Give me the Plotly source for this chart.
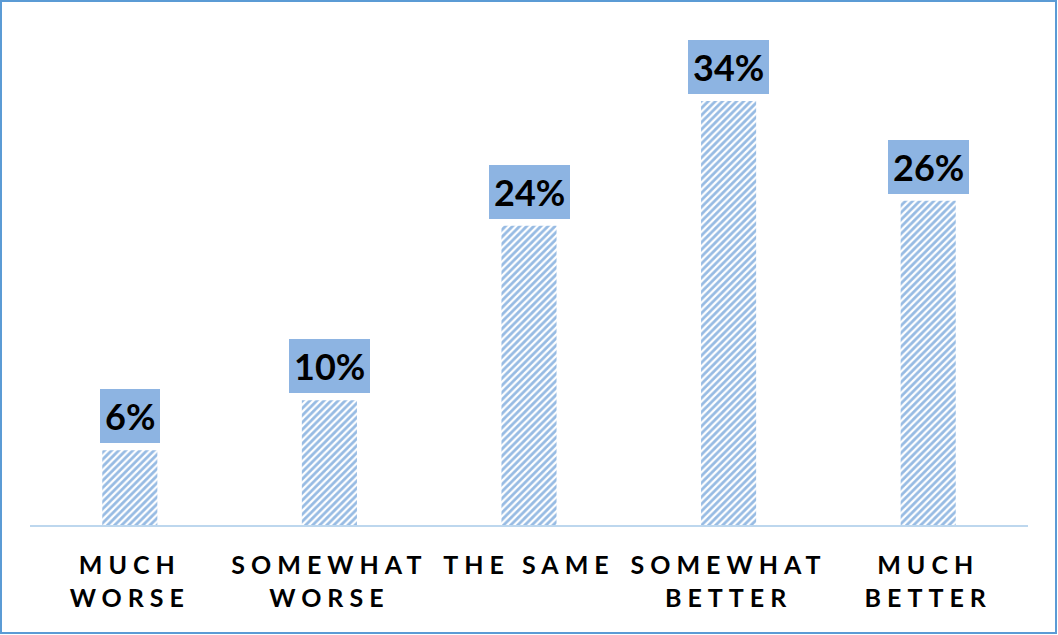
import plotly.graph_objects as go

# Survey answers and their shares (%)
categories = ["MUCH<br>WORSE", "SOMEWHAT<br>WORSE", "THE SAME", "SOMEWHAT<br>BETTER", "MUCH<br>BETTER"]
shares = [6, 10, 24, 34, 26]
share_labels = ["6%", "10%", "24%", "34%", "26%"]

W, H = 1058, 635
M_L, M_R, M_T, M_B = 30, 30, 30, 110
FONT = "Lato"

fig = go.Figure()
fig.add_trace(go.Bar(
    x=categories,
    y=shares,
    marker=dict(
        color="white",
        line=dict(width=0),
        pattern=dict(shape="/", fgcolor="#2F78C8", bgcolor="white", size=5, solidity=0.55),
    ),
    hoverinfo="skip",
))

# value boxes above each bar
for cat, val, lab in zip(categories, shares, share_labels):
    fig.add_annotation(
        x=cat, y=val, text=f"<b>{lab}</b>", showarrow=False,
        xanchor="center", yanchor="bottom", yshift=7,
        font=dict(family=FONT, size=36, color="black"),
        bgcolor="#8DB4E2", borderpad=5, borderwidth=0,
    )

plot_h = H - M_T - M_B
plot_w = W - M_L - M_R
# thin frame around the whole figure
fig.add_shape(
    type="rect", xref="paper", yref="paper",
    x0=(1 - M_L) / plot_w, x1=(1056 - M_L) / plot_w,
    y0=(H - M_B - 633) / plot_h, y1=(H - M_B - 1) / plot_h,
    line=dict(color="#5B9BD5", width=2), fillcolor="rgba(0,0,0,0)",
)

fig.update_layout(
    width=W, height=H,
    margin=dict(l=M_L, r=M_R, t=M_T, b=M_B),
    paper_bgcolor="white", plot_bgcolor="white",
    bargap=0.724, showlegend=False,
    xaxis=dict(
        showline=True, linecolor="#BDD7EE", linewidth=2,
        showgrid=False, ticks="", fixedrange=True, ticklabelstandoff=17,
        tickfont=dict(family=FONT, size=25, color="black", weight="bold"),
    ),
    yaxis=dict(range=[0, plot_h / 12.47], visible=False, showgrid=False,
               zeroline=False, fixedrange=True),
)

post = """
var gd = document.getElementById('{plot_id}');
function spaceTicks() {
  gd.querySelectorAll('.xtick text').forEach(function (t) {
    t.style.letterSpacing = '6px';
  });
}
spaceTicks();
gd.on('plotly_afterplot', spaceTicks);
"""

fig.write_html("out.html", config={"displayModeBar": False}, post_script=post)
